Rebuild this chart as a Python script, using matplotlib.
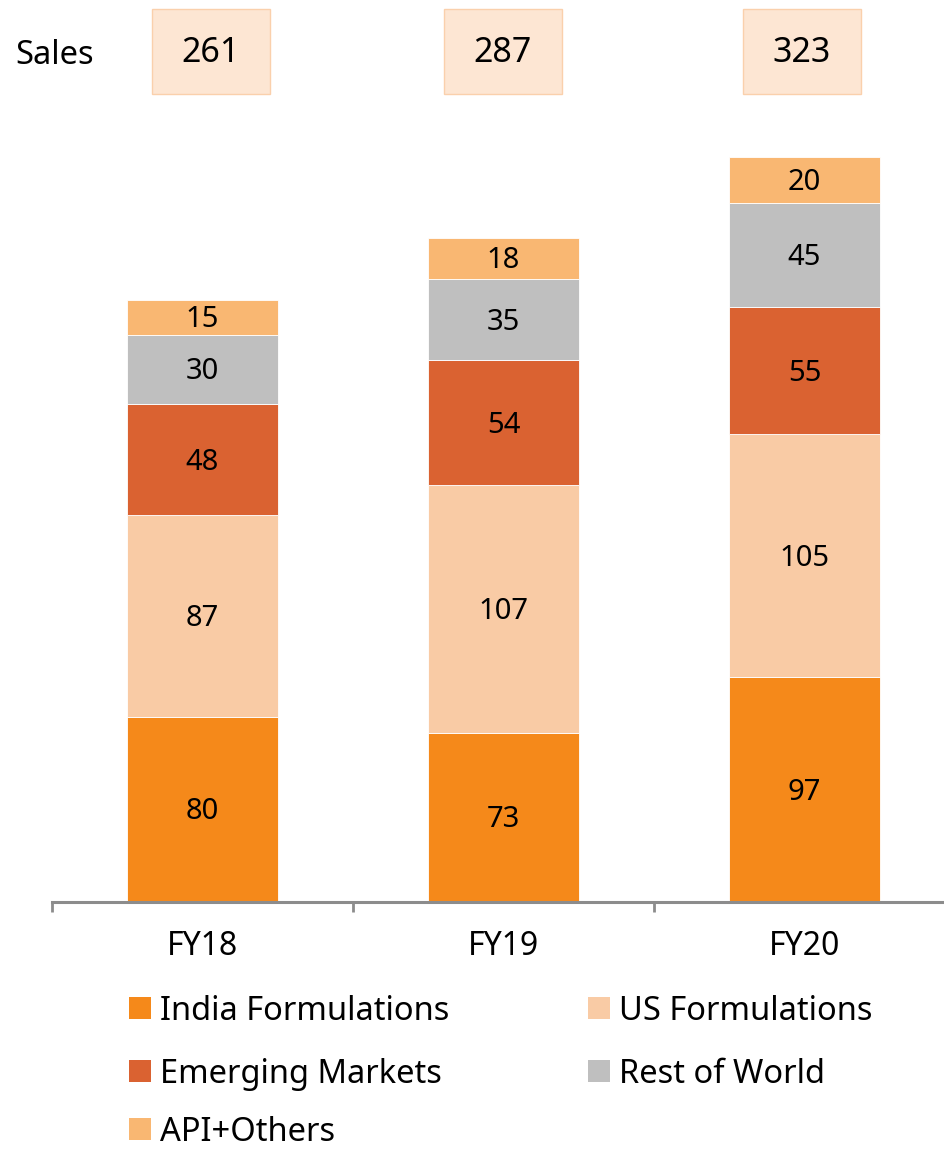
import numpy as np
import matplotlib.pyplot as plt
from matplotlib.patches import Rectangle

plt.rcParams['font.family'] = ['Noto Sans', 'DejaVu Sans']

# revenue split by segment
years = ['FY18', 'FY19', 'FY20']
sales = [261, 287, 323]
segments = ['India Formulations', 'US Formulations', 'Emerging Markets',
            'Rest of World', 'API+Others']
india = [80, 73, 97]
us = [87, 107, 105]
emerging = [48, 54, 55]
row = [30, 35, 45]
api = [15, 18, 20]
colors = ['#F5891A', '#F9CBA5', '#DA6231', '#BFBFBF', '#F9B772']

W, H = 944, 1149
fig = plt.figure(figsize=(W / 100, H / 100), dpi=100)
ax = fig.add_axes([52 / W, 247 / H, (955 - 52) / W, 787 / H])

x = np.arange(len(years))
bottom = np.zeros(len(years))
for name, vals, c in zip(segments, [india, us, emerging, row, api], colors):
    vals = np.array(vals)
    ax.bar(x, vals, width=0.5, bottom=bottom, color=c, edgecolor='white',
           linewidth=0.6, label=name)
    for xi, b, v in zip(x, bottom, vals):
        ax.text(xi, b + v / 2 - 1, str(v), ha='center', va='center',
                fontsize=21, color='black')
    bottom += vals

ax.set_xlim(-0.5, 2.5)
ax.set_ylim(0, 340)
for s in ['top', 'right', 'left']:
    ax.spines[s].set_visible(False)
ax.spines['bottom'].set_color('#8C8C8C')
ax.spines['bottom'].set_linewidth(2.2)
ax.set_yticks([])
ax.set_xticks(x)
ax.set_xticklabels(years, fontsize=23)
ax.tick_params(axis='x', which='major', length=0, pad=20)
ax.set_xticks([-0.5, 0.5, 1.5, 2.5], minor=True)
ax.tick_params(axis='x', which='minor', length=7, width=2, color='#8C8C8C')

# sales boxes along the top
fig.text(15 / W, 1 - 56 / H, 'Sales', fontsize=23.5, ha='left', va='center')
box_cx = [211, 503, 802]
for cx, s in zip(box_cx, sales):
    fig.patches.append(Rectangle(((cx - 59) / W, 1 - 94 / H), 118 / W, 85 / H,
                                 transform=fig.transFigure, facecolor='#FDE6D3',
                                 edgecolor='#FAD0AC', linewidth=1))
    fig.text(cx / W, 1 - 53 / H, str(s), fontsize=24.5, ha='center',
             va='center')

# legend, two columns (y = text baseline)
leg_pos = [(129, 1020), (588, 1020), (129, 1083), (588, 1083), (129, 1141)]
for (lx, ly), name, c in zip(leg_pos, segments, colors):
    fig.patches.append(Rectangle((lx / W, 1 - (ly - 1) / H), 22 / W, 22 / H,
                                 transform=fig.transFigure, facecolor=c,
                                 edgecolor='none'))
    fig.text((lx + 31) / W, 1 - ly / H, name, fontsize=23.5, ha='left',
             va='baseline')

fig.savefig('out.png', dpi=100)
